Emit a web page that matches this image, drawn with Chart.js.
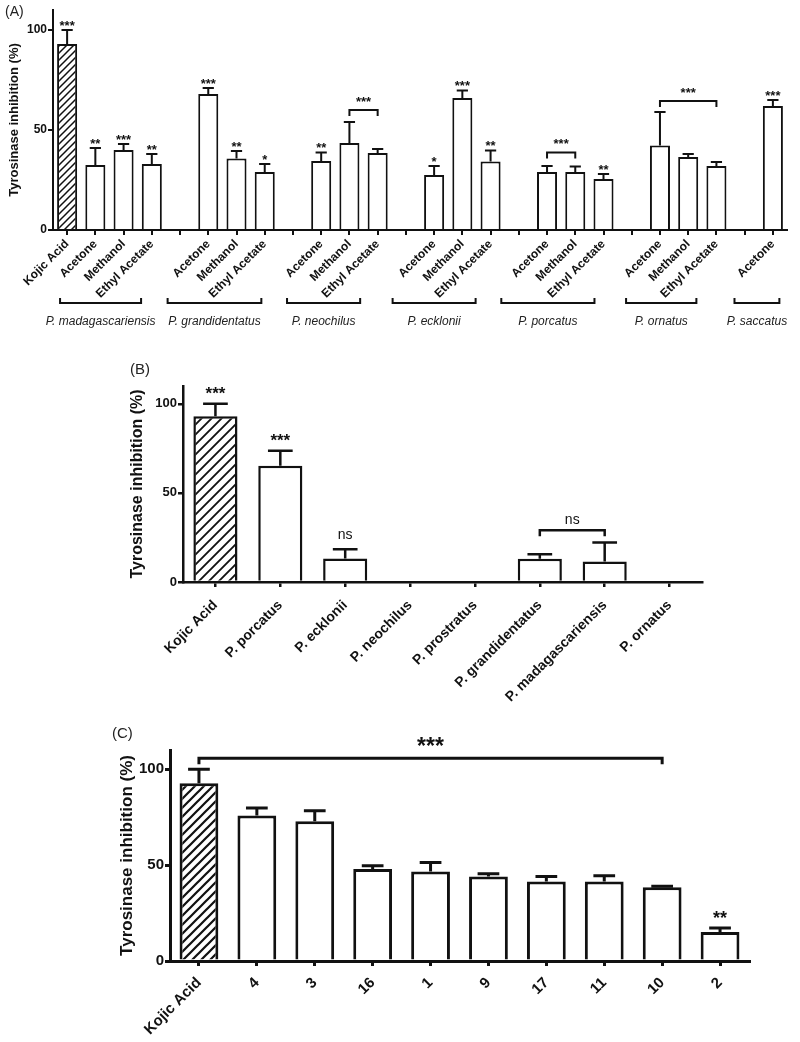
<!DOCTYPE html>
<html>
<head>
<meta charset="utf-8">
<script src="https://cdn.jsdelivr.net/npm/chart.js@4.4.0/dist/chart.umd.min.js"></script>
<style>
  body { margin: 0; background: #fff; width: 800px; height: 1042px; position: relative; overflow: hidden; }
  canvas { position: absolute; left: 0; }
  .tag { position: absolute; line-height: 1; color: #222; font-family: 'Liberation Sans', Arial, sans-serif; }
</style>
</head>
<body>
<canvas id="chartA" width="800" height="340" style="top:0"></canvas>
<canvas id="chartB" width="800" height="380" style="top:340px"></canvas>
<canvas id="chartC" width="800" height="322" style="top:720px"></canvas>
<div class="tag" style="left:5px;top:4px;font-size:14px">(A)</div>
<div class="tag" style="left:130px;top:361px;font-size:15px">(B)</div>
<div class="tag" style="left:112px;top:725px;font-size:15px">(C)</div>
<script>
const FONT = "'Liberation Sans', Arial, sans-serif";
const yTicks = [0, 50, 100];
const yTitle = 'Tyrosinase inhibition (%)';

// Panel A - extracts per species (empty slots separate the groups)
const aLabels = ['Kojic Acid', 'Acetone', 'Methanol', 'Ethyl Acetate', '',
  'Acetone', 'Methanol', 'Ethyl Acetate', '',
  'Acetone', 'Methanol', 'Ethyl Acetate', '',
  'Acetone', 'Methanol', 'Ethyl Acetate', '',
  'Acetone', 'Methanol', 'Ethyl Acetate', '',
  'Acetone', 'Methanol', 'Ethyl Acetate', '',
  'Acetone'];
const aValues = [93, 32.5, 40, 33, null, 68, 35.7, 29, null, 34.5, 43.5, 38.5, null,
  27.5, 66, 34.3, null, 29, 29, 25.5, null, 42.3, 36.5, 32, null, 62];
const aErrors = [7, 8.5, 3, 5, null, 3, 3.8, 4, null, 4.2, 10.5, 2, null,
  4.5, 3.7, 5.4, null, 3, 2.7, 2.5, null, 16.7, 1.5, 2, null, 3];
const aStars = ['***', '**', '***', '**', '', '***', '**', '*', '', '**', '', '', '',
  '*', '***', '**', '', '', '', '**', '', '', '', '', '', '***'];
const aBrackets = [
  { from: 10, to: 11, at: 60, text: '***' },
  { from: 17, to: 18, at: 38.7, text: '***' },
  { from: 21, to: 23, at: 64.5, text: '***' }
];
const aGroups = [
  { name: 'P. madagascariensis', from: -0.25, to: 2.62 },
  { name: 'P. grandidentatus', from: 3.56, to: 6.88 },
  { name: 'P. neochilus', from: 7.79, to: 10.38 },
  { name: 'P. ecklonii', from: 11.53, to: 14.47 },
  { name: 'P. porcatus', from: 15.38, to: 18.68 },
  { name: 'P. ornatus', from: 19.8, to: 22.29 },
  { name: 'P. saccatus', from: 23.64, to: 25.23 }
];

// Panel B - species
const bLabels = ['Kojic Acid', 'P. porcatus', 'P. ecklonii', 'P. neochilus', 'P. prostratus',
  'P. grandidentatus', 'P. madagascariensis', 'P. ornatus'];
const bValues = [93, 65.2, 13.2, null, null, 13, 11.5, null];
const bErrors = [7, 8.4, 5.2, null, null, 2.6, 10.7, null];
const bStars = ['***', '***', 'ns', '', '', '', '', ''];
const bBrackets = [{ from: 5, to: 6, at: 29, text: 'ns' }];

// Panel C - compounds
const cLabels = ['Kojic Acid', '4', '3', '16', '1', '9', '17', '11', '10', '2'];
const cValues = [92.7, 75.8, 72.9, 47.9, 46.7, 44, 41.5, 41.5, 38.5, 15.1];
const cErrors = [7.3, 3.9, 5.4, 1.7, 4.7, 1.5, 2.5, 2.9, 0.5, 2.1];
const cStars = ['', '', '', '', '', '', '', '', '', '**'];
const cBrackets = [{ from: 0, to: 8, at: 105.7, text: '***' }];

function hatch(size, lw) {
    const c = document.createElement('canvas');
    c.width = c.height = size;
    const g = c.getContext('2d');
    g.fillStyle = '#fff';
    g.fillRect(0, 0, size, size);
    g.strokeStyle = '#111';
    g.lineWidth = lw;
    g.beginPath();
    g.moveTo(0, size); g.lineTo(size, 0);
    g.moveTo(-size / 2, size / 2); g.lineTo(size / 2, -size / 2);
    g.moveTo(size / 2, size * 1.5); g.lineTo(size * 1.5, size / 2);
    g.stroke();
    return g.createPattern(c, 'repeat');
}

// draws "***" / "ns" centred dist px above yRef
function sigText(ctx, text, x, yRef, dist, size) {
    const ns = text === 'ns';
    ctx.font = (ns ? '' : 'bold ') + size + 'px ' + FONT;
    ctx.fillText(text, x, yRef - dist + (ns ? 0.26 : 0.58) * size);
}

const annotate = {
    id: 'annotate',
    afterDatasetsDraw(chart, args, o) {
        const ctx = chart.ctx;
        const xs = chart.scales.x, ys = chart.scales.y;
        const meta = chart.getDatasetMeta(0);
        const vals = chart.data.datasets[0].data;
        ctx.save();
        ctx.strokeStyle = '#111';
        ctx.fillStyle = '#111';
        ctx.lineWidth = o.lw;
        ctx.textAlign = 'center';
        ctx.textBaseline = 'alphabetic';

        vals.forEach((v, i) => {
            if (v == null) return;
            const bar = meta.data[i];
            const top = ys.getPixelForValue(v + o.errors[i]);
            const cap = bar.width * 0.28;
            ctx.beginPath();
            ctx.moveTo(bar.x, bar.y);
            ctx.lineTo(bar.x, top);
            ctx.moveTo(bar.x - cap, top);
            ctx.lineTo(bar.x + cap, top);
            ctx.stroke();
            if (o.stars[i]) {
                const ns = o.stars[i] === 'ns';
                sigText(ctx, o.stars[i], bar.x, top, ns ? o.nsDist : o.starDist, ns ? o.nsSize : o.starSize);
            }
        });

        o.brackets.forEach(b => {
            const x1 = xs.getPixelForValue(b.from);
            const x2 = xs.getPixelForValue(b.to);
            const yy = ys.getPixelForValue(b.at);
            ctx.beginPath();
            ctx.moveTo(x1, yy + o.drop);
            ctx.lineTo(x1, yy);
            ctx.lineTo(x2, yy);
            ctx.lineTo(x2, yy + o.drop);
            ctx.stroke();
            const ns = b.text === 'ns';
            sigText(ctx, b.text, (x1 + x2) / 2, yy, ns ? 10 : o.bracketDist, ns ? o.nsSize : o.bracketSize);
        });

        if (o.groups) {
            const by = chart.chartArea.bottom + 73;
            ctx.font = 'italic 12px ' + FONT;
            ctx.fillStyle = '#222';
            ctx.textBaseline = 'middle';
            o.groups.forEach(g => {
                const x1 = xs.getPixelForValue(g.from);
                const x2 = xs.getPixelForValue(g.to);
                ctx.beginPath();
                ctx.moveTo(x1, by - 5);
                ctx.lineTo(x1, by);
                ctx.lineTo(x2, by);
                ctx.lineTo(x2, by - 5);
                ctx.stroke();
                ctx.fillText(g.name, (x1 + x2) / 2, by + 19);
            });
        }
        ctx.restore();
    }
};

function buildChart(id, p) {
    return new Chart(document.getElementById(id), {
        type: 'bar',
        data: {
            labels: p.labels,
            datasets: [{
                data: p.values,
                backgroundColor: p.values.map((v, i) => i === 0 ? hatch(p.hatch, p.lw * 0.75) : '#fff'),
                borderColor: '#111',
                borderWidth: p.lw,
                borderSkipped: 'bottom',
                categoryPercentage: 1,
                barPercentage: p.barPct
            }]
        },
        options: {
            responsive: false,
            animation: false,
            layout: { padding: p.pad },
            plugins: {
                legend: { display: false },
                tooltip: { enabled: false },
                annotate: {
                    lw: p.lw,
                    errors: p.errors,
                    stars: p.stars,
                    brackets: p.brackets,
                    groups: p.groups,
                    starDist: p.starDist,
                    starSize: p.starSize,
                    nsDist: p.nsDist || 0,
                    nsSize: p.nsSize || 14,
                    bracketDist: p.bracketDist,
                    bracketSize: p.bracketSize,
                    drop: 6
                }
            },
            scales: {
                x: {
                    grid: { offset: false, drawOnChartArea: false, color: '#111', lineWidth: p.lw, tickLength: 5 },
                    border: { color: '#111', width: p.lw },
                    ticks: {
                        autoSkip: false, minRotation: 45, maxRotation: 45, padding: p.xPad, color: '#111',
                        font: { family: FONT, size: p.xFont, weight: 'bold' }
                    },
                    afterFit: s => { s.height = p.xHeight; }
                },
                y: {
                    min: 0,
                    max: 110,
                    afterBuildTicks: s => { s.ticks = yTicks.map(v => ({ value: v })); },
                    grid: { drawOnChartArea: false, color: '#111', lineWidth: p.lw, tickLength: 5 },
                    border: { color: '#111', width: p.lw },
                    ticks: { padding: 1, color: '#111', font: { family: FONT, size: p.yFont, weight: 'bold' } },
                    title: {
                        display: true, text: yTitle, color: '#111', padding: { top: 0, bottom: 0 },
                        font: { family: FONT, size: p.titleFont, weight: 'bold' }
                    },
                    afterFit: s => { s.width = p.yWidth; }
                }
            }
        },
        plugins: [annotate]
    });
}

buildChart('chartA', {
    labels: aLabels, values: aValues, errors: aErrors, stars: aStars, brackets: aBrackets, groups: aGroups,
    pad: { left: 7, right: 13, top: 10, bottom: 0 }, yWidth: 46, xHeight: 110,
    lw: 2, barPct: 0.71, hatch: 7, xFont: 12, xPad: 2, yFont: 12, titleFont: 13,
    starDist: 8, starSize: 13, bracketDist: 12, bracketSize: 13
});

buildChart('chartB', {
    labels: bLabels, values: bValues, errors: bErrors, stars: bStars, brackets: bBrackets,
    pad: { left: 128, right: 98, top: 46, bottom: 0 }, yWidth: 55, xHeight: 138,
    lw: 2.5, barPct: 0.68, hatch: 10, xFont: 14, xPad: 10, yFont: 13, titleFont: 16,
    starDist: 15, starSize: 17, nsDist: 14, nsSize: 14, bracketDist: 10, bracketSize: 17
});

buildChart('chartC', {
    labels: cLabels, values: cValues, errors: cErrors, stars: cStars, brackets: cBrackets,
    pad: { left: 117, right: 51, top: 30, bottom: 0 }, yWidth: 53, xHeight: 81,
    lw: 3, barPct: 0.67, hatch: 9, xFont: 15, xPad: 8, yFont: 15, titleFont: 17,
    starDist: 14, starSize: 18, bracketDist: 18, bracketSize: 23
});
</script>
</body>
</html>
